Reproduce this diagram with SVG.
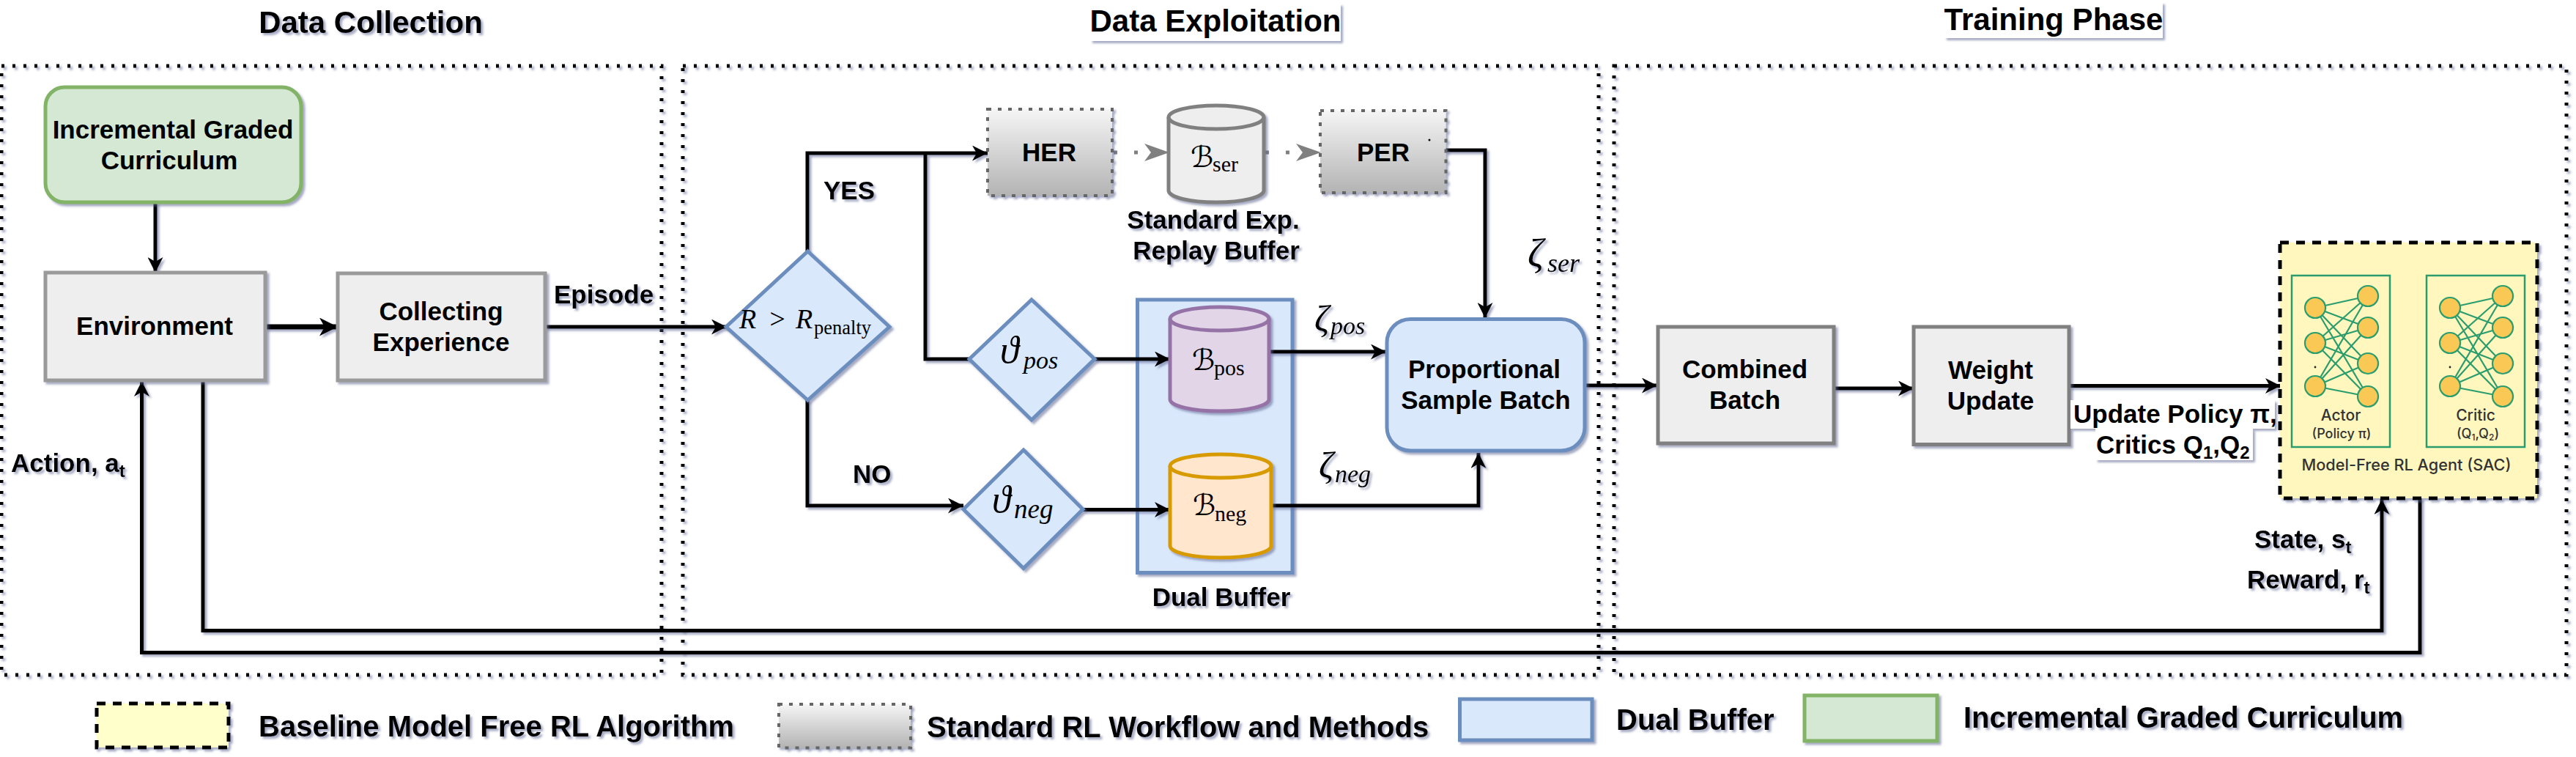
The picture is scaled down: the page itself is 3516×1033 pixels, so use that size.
<svg xmlns="http://www.w3.org/2000/svg" xmlns:xlink="http://www.w3.org/1999/xlink" width="3516" height="1033" viewBox="0 0 3516 1033">
<style>
text{font-family:"Liberation Sans",Arial,sans-serif;font-weight:bold;fill:#000;font-size:35px}
.c{text-anchor:middle}
.title{font-size:42px}
.leg{font-size:40px}
.sh{filter:url(#s)}
.m{font-family:"Liberation Serif","Times New Roman",serif;font-weight:normal;font-style:italic}
.u{font-family:"Liberation Serif","Times New Roman",serif;font-weight:normal}
.b{font-family:"DejaVu Serif","DejaVu Sans",serif;font-weight:normal;font-style:italic;font-size:40px}
.grp{fill:none;stroke:#000;stroke-width:5;stroke-dasharray:4 11}
.box{fill:#eee;stroke:#9a9a9a;stroke-width:5}
.dark{stroke:#808080}
.blue{fill:#dae8fc;stroke:#6c8ebf;stroke-width:5}
.green{fill:#d5e8d4;stroke:#82b366;stroke-width:5}
.gray{fill:url(#g);stroke:#666;stroke-width:4;stroke-dasharray:5 9}
.yel{stroke:#000;stroke-width:5;stroke-dasharray:12 10}
.wire{fill:none;stroke:#000;stroke-width:5;marker-end:url(#a)}
.big{stroke-width:7;marker-end:url(#a2)}
.ga{fill:none;stroke:#808080;stroke-width:5;stroke-dasharray:5 23;marker-end:url(#ag)}
.nbox{fill:none;stroke:#2a9d6f;stroke-width:2.5}
.nl{fill:none;stroke:#2a9d6f;stroke-width:2.2}
.nn{fill:#f9c855;stroke:#2a9d6f;stroke-width:2.2}
.net{font-family:Inter,"Noto Sans",sans-serif;font-weight:500;fill:#333;font-size:21px}
.lbl{fill:#fff}
</style>
<defs>
<filter id="s" filterUnits="userSpaceOnUse" x="0" y="0" width="3516" height="1033"><feDropShadow dx="3" dy="3" stdDeviation="1.8" flood-color="#5c6390" flood-opacity=".55"/></filter>
<linearGradient id="g" x1="0" y1="0" x2="0" y2="1"><stop offset="0" stop-color="#f5f5f5"/><stop offset="1" stop-color="#b3b3b3"/></linearGradient>
<marker id="a" markerUnits="userSpaceOnUse" markerWidth="21" markerHeight="21" refX="21" refY="10.500" orient="auto" viewBox="0 0 21 21"><path d="M0 0L21 10.500L0 21L6 10.500Z" fill="#000"/></marker>
<marker id="a2" markerUnits="userSpaceOnUse" markerWidth="25" markerHeight="25" refX="25" refY="12.500" orient="auto" viewBox="0 0 25 25"><path d="M0 0L25 12.500L0 25L7 12.500Z" fill="#000"/></marker>
<marker id="ag" markerUnits="userSpaceOnUse" markerWidth="36" markerHeight="26" refX="34" refY="12" orient="auto" viewBox="0 0 36 24"><path d="M0 0L34 12L0 24L9 12Z" fill="#808080"/></marker>
<g id="net">
<path class="nl" d="M0 420L72 404M0 420L72 447M0 420L72 496M0 420L72 541M0 468L72 404M0 468L72 447M0 468L72 496M0 468L72 541M0 527L72 404M0 527L72 447M0 527L72 496M0 527L72 541"/>
<circle class="nn" cx="0" cy="420" r="14"/><circle class="nn" cx="0" cy="468" r="14"/><circle class="nn" cx="0" cy="527" r="14"/>
<circle class="nn" cx="72" cy="404" r="14"/><circle class="nn" cx="72" cy="447" r="14"/><circle class="nn" cx="72" cy="496" r="14"/><circle class="nn" cx="72" cy="541" r="14"/>
<circle cx="0" cy="501" r="1.4" fill="#222"/>
</g>
</defs>

<g id="regions">
<rect class="grp sh" x="2" y="90" width="901" height="831"/>
<rect class="grp sh" x="932" y="90" width="1250" height="831"/>
<rect class="grp sh" x="2203" y="90" width="1300" height="831"/>
</g>

<g id="titles">
<text class="title c sh" x="506" y="45">Data Collection</text>
<g id="title-exploitation"><rect class="lbl sh" x="1488" y="5" width="342" height="51"/><text class="title c" x="1659" y="43">Data Exploitation</text></g>
<g id="title-training"><rect class="lbl sh" x="2654" y="3" width="298" height="49"/><text class="title c" x="2803" y="41">Training Phase</text></g>
</g>

<g id="node-dual-buffer"><rect class="blue sh" x="1552.5" y="409" width="211.5" height="372.500"/></g>

<g id="connectors">
<g class="sh">
<path class="wire" d="M212 276V372"/>
<path class="wire big" d="M362 446H461"/>
<path class="wire" d="M744 446H992"/>
<path class="wire" d="M1102 343V209H1348"/>
<path class="wire" d="M1263 209V490H1323" style="marker-end:none"/>
<path class="wire" d="M1102 546V690H1315"/>
<path class="wire" d="M1494 490H1597"/>
<path class="wire" d="M1478 695.500H1597"/>
<path class="wire" d="M1732 480H1892"/>
<path class="wire" d="M1735 690H2018V618"/>
<path class="wire" d="M1973 205H2027V434"/>
<path class="wire" d="M2163 526H2262"/>
<path class="wire" d="M2503 530H2612"/>
<path class="wire" d="M2824 526.500H3113"/>
<path class="wire" d="M3303 680V890.500H193.500V520"/>
<path class="wire" d="M277 520V860.500H3251V681"/>
</g>
<path class="ga" d="M1520 208H1596"/>
<path class="ga" d="M1727 208H1803"/>
</g>

<g id="node-curriculum"><rect class="green sh" x="62" y="119" width="349" height="157" rx="26"/><text class="c" x="236" y="189">Incremental Graded</text><text class="c" x="231" y="231">Curriculum</text></g>
<g id="node-environment"><rect class="box sh" x="62" y="372" width="300" height="147"/><text class="c" x="211" y="457">Environment</text></g>
<g id="node-collecting"><rect class="box sh" x="461" y="373" width="283" height="146"/><text class="c" x="602" y="437">Collecting</text><text class="c" x="602" y="479">Experience</text></g>
<g id="node-decision"><path class="blue sh" d="M1102.500 343L1214 446L1102.500 546L991 446Z"/><text class="m" y="448" style="font-size:38px"><tspan x="1009">R</tspan><tspan x="1048">&gt;</tspan><tspan x="1086">R</tspan></text><text class="u" x="1111" y="456" style="font-size:26.500px">penalty</text></g>
<g id="node-her"><rect class="gray sh" x="1348" y="149" width="170" height="118"/><text class="c" x="1432" y="220">HER</text></g>
<g id="node-ser"><path class="box dark sh" d="M1595 160V260A65 16 0 0 0 1725 260V160A65 16 0 0 0 1595 160Z"/><path class="box dark" style="fill:none" d="M1595 160A65 16 0 0 0 1725 160"/><text class="b" x="1625" y="228">ℬ</text><text class="u" x="1655" y="234" style="font-size:30px">ser</text></g>
<g id="node-per"><rect class="gray sh" x="1802" y="151" width="171.500" height="112"/><text class="c" x="1888" y="220">PER</text><circle cx="1951" cy="191" r="1.500" fill="#000"/></g>
<g id="label-standard"><text class="c sh" x="1656" y="312">Standard Exp.</text><text class="c sh" x="1660" y="354">Replay Buffer</text></g>
<g id="node-theta-pos"><path class="blue sh" d="M1408 409L1494 490L1408 573L1323 490Z"/><text class="m" x="1365" y="495" style="font-size:52px">ϑ</text><text class="m" x="1397" y="503" style="font-size:34px">pos</text></g>
<g id="node-theta-neg"><path class="blue sh" d="M1397 614L1478 695L1397 775.500L1315 695Z"/><text class="m" x="1354" y="699" style="font-size:52px">ϑ</text><text class="m" x="1384" y="707" style="font-size:37px">neg</text></g>
<g id="node-pos"><path class="sh" style="fill:#e1d5e7;stroke:#9673a6;stroke-width:5" d="M1597 435V545A67.500 16 0 0 0 1732 545V435A67.500 16 0 0 0 1597 435Z"/><path style="fill:none;stroke:#9673a6;stroke-width:5" d="M1597 435A67.500 16 0 0 0 1732 435"/><text class="b" x="1627" y="505">ℬ</text><text class="u" x="1657" y="512" style="font-size:30px">pos</text></g>
<g id="node-neg"><path class="sh" style="fill:#ffe6cc;stroke:#d79b00;stroke-width:5" d="M1597 636V745A69 16 0 0 0 1735 745V636A69 16 0 0 0 1597 636Z"/><path style="fill:none;stroke:#d79b00;stroke-width:5" d="M1597 636A69 16 0 0 0 1735 636"/><text class="b" x="1628" y="703">ℬ</text><text class="u" x="1658" y="711" style="font-size:30px">neg</text></g>
<g id="node-proportional"><rect class="blue sh" x="1893" y="435.500" width="270" height="179.500" rx="32"/><text class="c" x="2026" y="516">Proportional</text><text class="c" x="2028" y="557.500">Sample Batch</text></g>
<g id="node-combined"><rect class="box dark sh" x="2263" y="446" width="240" height="159"/><text class="c" x="2381.500" y="516">Combined</text><text class="c" x="2381.500" y="558">Batch</text></g>
<g id="node-weight"><rect class="box dark sh" x="2612" y="446" width="212" height="160.500"/><text class="c" x="2717" y="517">Weight</text><text class="c" x="2717" y="559">Update</text></g>

<g id="node-agent">
<rect class="yel sh" style="fill:#fff7bd" x="3112" y="331" width="351" height="349"/>
<rect class="nbox" x="3128" y="376" width="134" height="234"/>
<rect class="nbox" x="3312" y="376" width="134" height="234"/>
<use xlink:href="#net" href="#net" x="3160"/>
<use xlink:href="#net" href="#net" x="3344"/>
<text class="net c" x="3195" y="574">Actor</text>
<text class="net c" x="3196" y="598" style="font-size:18px">(Policy π)</text>
<text class="net c" x="3379" y="574">Critic</text>
<text class="net c" x="3382" y="598" style="font-size:18px">(Q<tspan dy="3" style="font-size:12px">1</tspan><tspan dy="-3">,Q</tspan><tspan dy="3" style="font-size:12px">2</tspan><tspan dy="-3">)</tspan></text>
<text class="net c" x="3284.500" y="642" style="font-size:21.700px">Model-Free RL Agent (SAC)</text>
</g>

<g id="labels">
<text class="sh" x="756" y="414">Episode</text>
<text class="sh" x="1124" y="272">YES</text>
<text class="sh" x="1164" y="659">NO</text>
<text class="c sh" x="1667" y="827">Dual Buffer</text>
<g class="sh"><text class="m" x="2085" y="364" style="font-size:54px">ζ</text><text class="m" x="2112" y="371" style="font-size:36px">ser</text></g>
<g class="sh"><text class="m" x="1794" y="452" style="font-size:50px">ζ</text><text class="m" x="1816" y="456" style="font-size:34px">pos</text></g>
<g class="sh"><text class="m" x="1800" y="652" style="font-size:50px">ζ</text><text class="m" x="1822" y="658" style="font-size:34px">neg</text></g>
<text class="sh" x="15" y="644">Action, a<tspan dy="7" style="font-size:24px">t</tspan></text>
<text class="sh" x="3077" y="748">State, s<tspan dy="7" style="font-size:24px">t</tspan></text>
<text class="sh" x="3067" y="803">Reward, r<tspan dy="7" style="font-size:24px">t</tspan></text>
<g id="label-update"><rect class="lbl sh" x="2826" y="546" width="279" height="39"/><text x="2830" y="577">Update Policy π,</text><rect class="lbl sh" x="2860" y="585" width="215" height="43"/><text x="2861" y="619">Critics Q<tspan dy="7" style="font-size:24px">1</tspan><tspan dy="-7">,Q</tspan><tspan dy="7" style="font-size:24px">2</tspan></text></g>
</g>

<g id="legend">
<rect class="yel sh" style="fill:#ffffcc" x="132" y="960" width="180" height="60"/><text class="leg sh" x="353" y="1005">Baseline Model Free RL Algorithm</text>
<rect class="gray sh" x="1063" y="961" width="180" height="59.500"/><text class="leg sh" x="1265" y="1005.500">Standard RL Workflow and Methods</text>
<rect class="blue sh" x="1992.500" y="954" width="180.500" height="56"/><text class="leg sh" x="2206" y="996">Dual Buffer</text>
<rect class="green sh" x="2463" y="949" width="181" height="62"/><text class="leg sh" x="2680" y="993">Incremental Graded Curriculum</text>
</g>
</svg>
